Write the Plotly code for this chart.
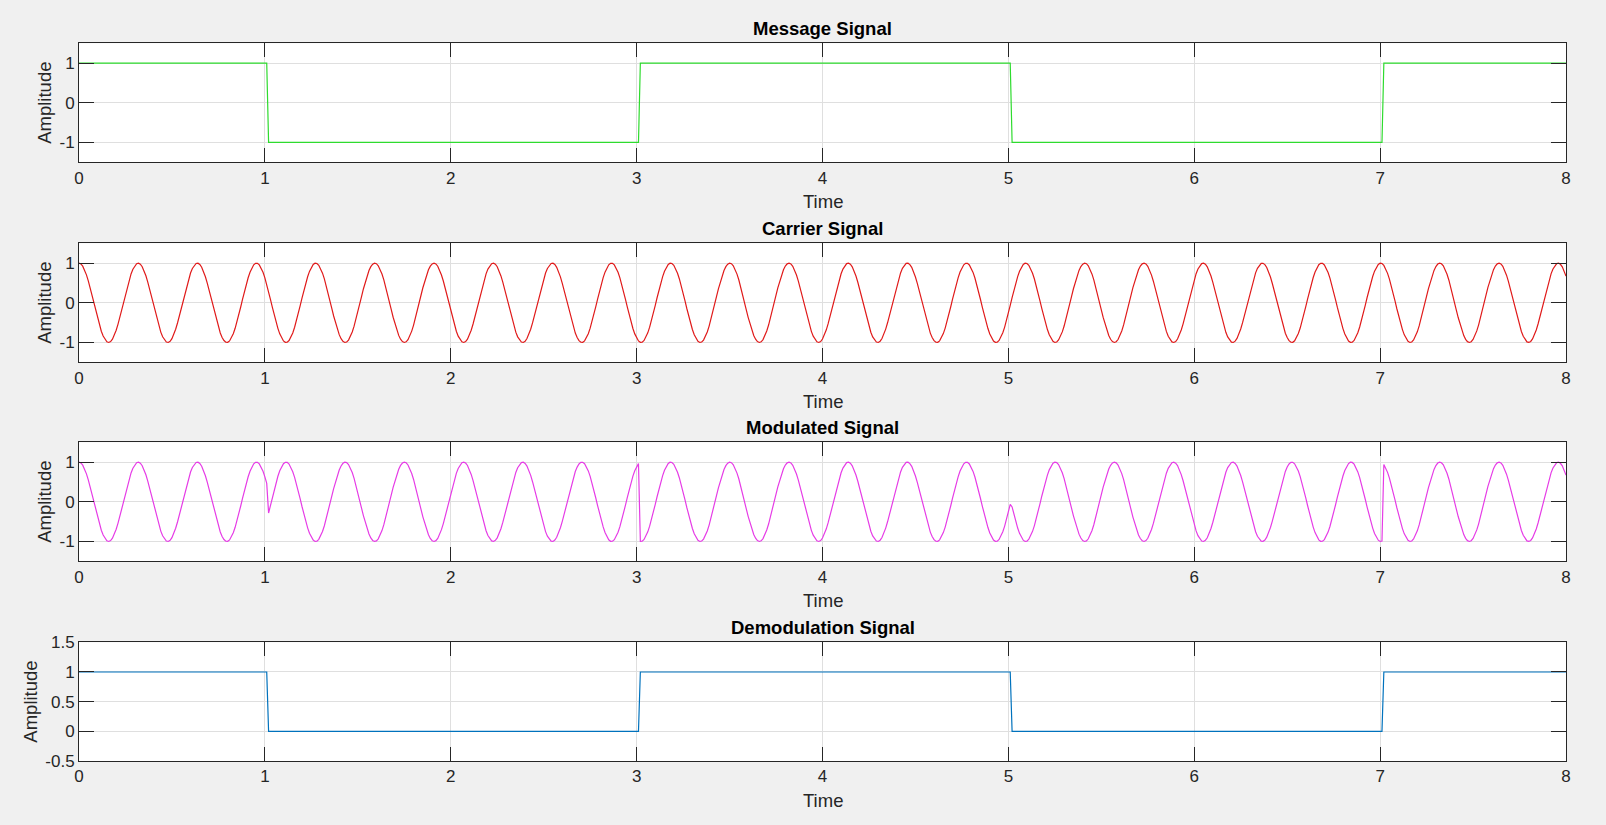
import numpy as np
import plotly.graph_objects as go

# ---- data ----
sample_step = 0.01            # s
t_end = 8.0                   # s
carrier_freq = np.pi          # Hz
# last sample time of each bit segment and its level
segment_ends = [1.01, 3.01, 5.01, 7.01, 8.0]
message_levels = [1, -1, 1, -1, 1]
demod_levels = [1, 0, 1, 0, 1]

x_ticks = [0, 1, 2, 3, 4, 5, 6, 7, 8]
y_ticks_sig = [-1, 0, 1]
y_ticks_sig_text = ["-1", "0", "1"]
y_ticks_dem = [-0.5, 0, 0.5, 1, 1.5]
y_ticks_dem_text = ["-0.5", "0", "0.5", "1", "1.5"]
titles = ["Message Signal", "Carrier Signal", "Modulated Signal", "Demodulation Signal"]

# ---- signals ----
t = np.round(np.arange(0, int(round(t_end / sample_step)) + 1) * sample_step, 2)
seg_idx = np.searchsorted(np.array(segment_ends) + 1e-9, t)
message = np.array(message_levels, dtype=float)[seg_idx]
demod = np.array(demod_levels, dtype=float)[seg_idx]
carrier = np.cos(2 * np.pi * carrier_freq * t)
modulated = message * carrier

W, H = 1606, 825
L, R, T, B = 79, 40, 43, 64
plot_h = H - T - B
# pixel rows of each axes box (top, bottom)
boxes = [(43.3, 162.3), (243.3, 362.3), (442.3, 561.3), (642.3, 761.0)]
def frac(py):
    return (H - B - py) / plot_h

fig = go.Figure()
series = [(message, "#2edb2e"), (carrier, "#e01a1a"), (modulated, "#e63ce6"), (demod, "#0072BD")]
for i, (y, col) in enumerate(series):
    n = "" if i == 0 else str(i + 1)
    fig.add_trace(go.Scatter(x=t, y=y, mode="lines", line=dict(color=col, width=1.2),
                             xaxis="x" + n, yaxis="y" + n, showlegend=False, hoverinfo="skip"))

axis_common = dict(showline=True, linecolor="#262626", linewidth=1, mirror="ticks",
                   ticks="inside", tickcolor="#262626", showgrid=True, gridcolor="#dfdfdf",
                   gridwidth=1, zeroline=False, tickfont=dict(family="Liberation Sans, Arial", size=17, color="#262626"))
layout = {}
annotations = []
font_lab = dict(family="Liberation Sans, Arial", size=18.5, color="#262626")
for i, (top, bot) in enumerate(boxes):
    n = "" if i == 0 else str(i + 1)
    layout["xaxis" + n] = dict(axis_common, domain=[0, 1], anchor="y" + n, range=[0, 8],
                               tickvals=x_ticks, ticktext=[str(v) for v in x_ticks], ticklen=14)
    if i < 3:
        yv, yt, yr = y_ticks_sig, y_ticks_sig_text, [-1.5, 1.5]
    else:
        yv, yt, yr = y_ticks_dem, y_ticks_dem_text, [-0.5, 1.5]
    layout["yaxis" + n] = dict(axis_common, domain=[frac(bot), frac(top)], anchor="x" + n,
                               range=yr, tickvals=yv, ticktext=yt, ticklen=15)
    cx = (L + (W - R)) / 2 / W
    annotations.append(dict(text="<b>" + titles[i] + "</b>", xref="paper", yref="paper",
                            x=0.5, y=frac(top), yshift=14.5, xanchor="center", yanchor="middle",
                            showarrow=False, font=dict(family="Liberation Sans, Arial", size=18.5, color="#000000")))
    annotations.append(dict(text="Time", xref="paper", yref="paper", x=0.5, y=frac(bot), yshift=-39,
                            xanchor="center", yanchor="middle", showarrow=False, font=font_lab))
    annotations.append(dict(text="Amplitude", xref="paper", yref="paper", x=0, xshift=(45 if i < 3 else 31) - L,
                            y=(frac(top) + frac(bot)) / 2, xanchor="center", yanchor="middle",
                            textangle=-90, showarrow=False, font=font_lab))

fig.update_layout(**layout)
fig.update_layout(width=W, height=H, margin=dict(l=L, r=R, t=T, b=B, pad=0),
                  paper_bgcolor="#f0f0f0", plot_bgcolor="#ffffff", annotations=annotations,
                  font=dict(family="Liberation Sans, Arial"))
fig.write_html("out.html")
